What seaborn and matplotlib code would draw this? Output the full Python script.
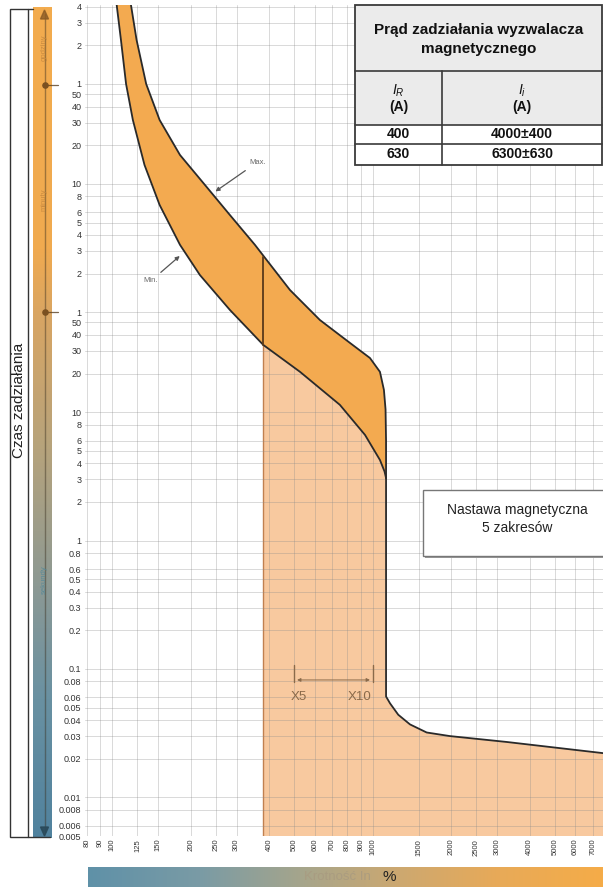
import numpy as np
import matplotlib
matplotlib.use("Agg")
import matplotlib.pyplot as plt
import seaborn as sns
from matplotlib.patches import Rectangle, Polygon

# ---------------- data ----------------
x_ticks = [80, 90, 100, 125, 150, 200, 250, 300, 400, 500, 600, 700, 800, 900,
           1000, 1500, 2000, 2500, 3000, 4000, 5000, 6000, 7000]
hour_ticks = [4, 3, 2, 1]
minute_ticks = [50, 40, 30, 20, 10, 8, 6, 5, 4, 3, 2, 1]
second_ticks = [50, 40, 30, 20, 10, 8, 6, 5, 4, 3, 2, 1, 0.8, 0.6, 0.5, 0.4, 0.3,
                0.2, 0.1, 0.08, 0.06, 0.05, 0.04, 0.03, 0.02, 0.01, 0.008, 0.006, 0.005]

# upper (Max) boundary of the thermal band: current in %, time in s
max_x = [118, 124, 135, 152, 182, 227, 283, 353, 386, 481, 627, 818, 976, 1066, 1104, 1120, 1125, 1125]
max_y = [14840, 7925, 3597, 1887, 1007, 588, 343, 201, 159, 89.5, 52.2, 34.6, 26.4, 20.6, 14.9, 10.5, 6.0, 3.07]
# lower (Min) boundary of the thermal band
min_x = [104, 108, 113, 120, 133, 152, 182, 217, 283, 380, 526, 748, 934, 1066, 1110, 1125]
min_y = [14840, 7925, 3597, 1887, 842, 411, 201, 117, 62.5, 33.4, 20.6, 11.4, 6.65, 4.24, 3.45, 3.07]
# magnetic part below the band
tail_x = [1125, 1125, 1165, 1253, 1390, 1611, 1979, 3267, 7656, 8000]
tail_y = [3.07, 0.061, 0.054, 0.044, 0.037, 0.032, 0.030, 0.027, 0.0221, 0.0218]
# vertical limit at 400 % setting
vline_x = 380
vline_top = 162

table_title = "Prąd zadziałania wyzwalacza\nmagnetycznego"
table_rows = [("400", "4000±400"), ("630", "6300±630")]

# ---------------- style ----------------
sns.set_theme(style="white")
plt.rcParams['font.family'] = ['Liberation Sans', 'DejaVu Sans']
plt.rcParams['mathtext.fontset'] = 'custom'
plt.rcParams['mathtext.rm'] = 'Liberation Sans'
plt.rcParams['mathtext.it'] = 'Liberation Sans:italic'
plt.rcParams['mathtext.bf'] = 'Liberation Sans:bold'

W, H = 603, 888
fig = plt.figure(figsize=(W / 100, H / 100), dpi=100)
fig.patch.set_facecolor('white')

ax_l, ax_r, ax_t, ax_b = 85, 603, 5, 836
ax = fig.add_axes([ax_l / W, (H - ax_b) / H, (ax_r - ax_l) / W, (ax_b - ax_t) / H])
ax.set_xscale('log')
ax.set_yscale('log')
ax.set_xlim(78.6, 7656)
ax.set_ylim(0.005, 14830)
ax.set_facecolor('white')
for s in ax.spines.values():
    s.set_visible(False)

# ticks
yt = [h * 3600 for h in hour_ticks] + [m * 60 for m in minute_ticks] + second_ticks
ylab = [f"{v:g}" for v in hour_ticks] + [f"{v:g}" for v in minute_ticks] + [f"{v:g}" for v in second_ticks]
ax.set_yticks(yt)
ax.set_yticklabels(ylab)
ax.yaxis.set_minor_locator(matplotlib.ticker.NullLocator())
ax.set_xticks(x_ticks)
ax.set_xticklabels([str(v) for v in x_ticks], rotation=90)
ax.xaxis.set_minor_locator(matplotlib.ticker.NullLocator())
ax.tick_params(axis='both', length=0, colors='#333333')
ax.tick_params(axis='y', labelsize=6.5, pad=2.5)
ax.tick_params(axis='x', labelsize=5.5, pad=2)
ax.set_axisbelow('line')
ax.grid(True, which='major', color='#8a8a8a', alpha=0.32, lw=0.7)

dark_orange = '#F3AA50'
light_orange = '#F8C99F'

# light fill (below the Min curve, right of 400 % line)
lf_pts = [(vline_x, 0.004)]
lf_pts += [(x, y) for x, y in zip(min_x, min_y) if x >= vline_x]
lf_pts += list(zip(tail_x[1:], tail_y[1:]))
lf_pts += [(tail_x[-1], 0.004)]
lx, ly = zip(*lf_pts)
ax.fill(lx, ly, color=light_orange, zorder=1, lw=0)
ax.plot([vline_x, vline_x], [0.004, min_y[min_x.index(vline_x)]], color='#C08050', lw=1.0, zorder=1.2)

# dark band
bx = list(max_x) + list(min_x[::-1])
by = list(max_y) + list(min_y[::-1])
ax.fill(bx, by, color=dark_orange, zorder=2, lw=0)

# outlines with seaborn
line_kw = dict(sort=False, estimator=None, color='#2a2a2a', lw=1.3, ax=ax, zorder=3)
sns.lineplot(x=max_x, y=max_y, **line_kw)
sns.lineplot(x=min_x, y=min_y, **line_kw)
sns.lineplot(x=tail_x, y=tail_y, **line_kw)
ax.plot([vline_x, vline_x], [vline_top, min_y[min_x.index(vline_x)]], color='#5a3a1a', lw=1.3, zorder=3)
ax.set_xlabel('')
ax.set_ylabel('')

# Max / Min annotations
ax.annotate("Max.", xy=(244, 509), xytext=(335, 830), fontsize=5.5, color='#666666',
            ha='left', va='bottom',
            arrowprops=dict(arrowstyle='-|>', color='#555555', lw=0.9, mutation_scale=6))
ax.annotate("Min.", xy=(185, 170), xytext=(150, 112), fontsize=5.5, color='#666666',
            ha='right', va='top',
            arrowprops=dict(arrowstyle='-|>', color='#555555', lw=0.9, mutation_scale=6))

# X5 / X10 bracket
br = '#8a6a4a'
ax.plot([500, 500], [0.1075, 0.0792], color=br, lw=1.0, zorder=4)
ax.plot([1000, 1000], [0.1075, 0.0792], color=br, lw=1.0, zorder=4)
ax.annotate("", xy=(500, 0.0821), xytext=(1000, 0.0821),
            arrowprops=dict(arrowstyle='<|-|>', color=br, lw=0.7, mutation_scale=5), zorder=4)
ax.text(520, 0.061, "X5", color=br, fontsize=9.5, ha='center', va='center', zorder=4)
ax.text(890, 0.061, "X10", color=br, fontsize=9.5, ha='center', va='center', zorder=4)

# ---------------- overlay in pixel coordinates ----------------
ov = fig.add_axes([0, 0, 1, 1], zorder=10)
ov.patch.set_alpha(0)
ov.axis('off')


def gradient(stops, n):
    pos = np.array([s[0] for s in stops], dtype=float)
    cols = np.array([s[1] for s in stops], dtype=float) / 255.0
    t = np.linspace(pos[0], pos[-1], n)
    return np.stack([np.interp(t, pos, cols[:, i]) for i in range(3)], axis=-1)


# left vertical time bar
vstops = [(8, (243, 172, 78)), (250, (240, 170, 80)), (320, (215, 165, 100)),
          (450, (182, 163, 124)), (600, (136, 152, 150)), (700, (105, 145, 162)),
          (838, (80, 130, 158))]
varr = gradient(vstops, 400)[:, None, :]
ov.imshow(varr, extent=(33, 52, 838, 8), aspect='auto', origin='upper', zorder=1)
ov.plot([44.5, 44.5], [14, 832], color='#3a3020', alpha=0.45, lw=1.0, zorder=2)
ov.add_patch(Polygon([[40.5, 19], [48.5, 19], [44.5, 10]], closed=True, color='#8a5a25', alpha=0.8, zorder=3))
ov.add_patch(Polygon([[40.5, 827], [48.5, 827], [44.5, 836]], closed=True, color='#2a4a5a', alpha=0.9, zorder=3))
for yy in (85, 312):
    ov.plot([44.5, 58], [yy, yy], color='#5a4020', lw=0.9, alpha=0.8, zorder=3)
    ov.scatter([44.5], [yy], s=14, color='#7a5020', zorder=4)
ov.text(44.5, 48, "godziny", rotation=90, fontsize=5.5, color='#c88a40', ha='center', va='center', zorder=4)
ov.text(44.5, 200, "minuty", rotation=90, fontsize=5.5, color='#c88a40', ha='center', va='center', zorder=4)
ov.text(44.5, 580, "sekundy", rotation=90, fontsize=5.5, color='#5a8a98', ha='center', va='center', zorder=4)

# white box with axis title
ov.add_patch(Rectangle((10, 9), 18, 828, facecolor='white', edgecolor='#333333', lw=1.0, zorder=2))
ov.plot([28, 33], [9, 9], color='#333333', lw=1.0, zorder=2)
ov.plot([28, 50], [837, 837], color='#333333', lw=1.0, zorder=2)
ov.text(19, 400, "Czas zadziałania", rotation=90, fontsize=11, color='#222222',
        ha='center', va='center', zorder=3)

# bottom horizontal bar
hstops = [(88, (95, 145, 168)), (200, (122, 155, 165)), (300, (165, 165, 140)),
          (400, (205, 168, 112)), (500, (232, 170, 88)), (603, (245, 172, 72))]
harr = gradient(hstops, 400)[None, :, :]
ov.imshow(harr, extent=(88, 603, 887, 867), aspect='auto', origin='upper', zorder=1)
ov.text(337, 877, "Krotność In", fontsize=9.5, color='#a89a80', alpha=0.8, ha='center', va='center', zorder=2)
ov.text(389, 877, "%", fontsize=11, color='#222222', ha='center', va='center', zorder=2)

# table
tl, tr = 355, 602
tc = 442
ty = [5, 71, 125, 144, 165]
ov.add_patch(Rectangle((tl, ty[0]), tr - tl, ty[2] - ty[0], facecolor='#EBEBEB', edgecolor='none', zorder=2))
ov.add_patch(Rectangle((tl, ty[2]), tr - tl, ty[4] - ty[2], facecolor='white', edgecolor='none', zorder=2))
ov.add_patch(Rectangle((tl, ty[0]), tr - tl, ty[4] - ty[0], facecolor='none', edgecolor='#3a3a3a', lw=1.3, zorder=3))
for yy in ty[1:4]:
    ov.plot([tl, tr], [yy, yy], color='#3a3a3a', lw=1.2, zorder=3)
ov.plot([tc, tc], [ty[1], ty[4]], color='#3a3a3a', lw=1.2, zorder=3)
ov.text((tl + tr) / 2, 39.5, table_title, fontsize=11, fontweight='bold', color='#111111',
        ha='center', va='center', linespacing=1.45, zorder=4)
cx1, cx2 = (tl + tc) / 2, (tc + tr) / 2
ov.text(cx1, 91, r"$I_R$", fontsize=10, color='#111111', ha='center', va='center', zorder=4)
ov.text(cx1, 107, "(A)", fontsize=10, fontweight='bold', color='#111111', ha='center', va='center', zorder=4)
ov.text(cx2, 91, r"$I_i$", fontsize=10, color='#111111', ha='center', va='center', zorder=4)
ov.text(cx2, 107, "(A)", fontsize=10, fontweight='bold', color='#111111', ha='center', va='center', zorder=4)
for (a, b), yy in zip(table_rows, [134.5, 154.5]):
    ov.text(cx1, yy, a, fontsize=10, fontweight='bold', color='#111111', ha='center', va='center', zorder=4)
    ov.text(cx2, yy, b, fontsize=10, fontweight='bold', color='#111111', ha='center', va='center', zorder=4)

# "Nastawa magnetyczna" box
ov.add_patch(Rectangle((425, 492), 190, 66, facecolor='#9a9a9a', edgecolor='none', zorder=2))
ov.add_patch(Rectangle((423, 490), 190, 66, facecolor='white', edgecolor='#777777', lw=1.0, zorder=3))
ov.text(517, 510, "Nastawa magnetyczna", fontsize=10, color='#222222', ha='center', va='center', zorder=4)
ov.text(517, 528, "5 zakresów", fontsize=10, color='#222222', ha='center', va='center', zorder=4)

ov.set_xlim(0, W)
ov.set_ylim(H, 0)

fig.savefig("out.png", dpi=100)
